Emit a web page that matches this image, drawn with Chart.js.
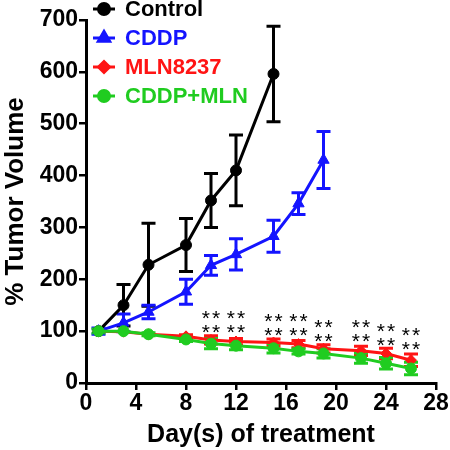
<!DOCTYPE html>
<html>
<head>
<meta charset="utf-8">
<script src="https://cdn.jsdelivr.net/npm/chart.js@4"></script>
<style>
  html, body { margin: 0; padding: 0; background: #fff; }
  #wrap { width: 450px; height: 450px; }
</style>
</head>
<body>
<div id="wrap"><canvas id="tumorChart" width="450" height="450"></canvas></div>
<script>
// data
const controlDays = [1, 3, 5, 8, 10, 12, 15];
const controlMean = [100, 150, 228, 266, 352, 410, 596];
const controlErr = [0, 40, 80, 51, 52, 68, 92];

const cddpDays = [1, 3, 5, 8, 10, 12, 15, 17, 19];
const cddpMean = [100, 116, 137, 176, 227, 248, 283, 346, 430];
const cddpErr = [6, 17, 13, 24, 19, 30, 31, 21, 55];

const mlnDays = [1, 3, 5, 8, 10, 12, 15, 17, 19, 22, 24, 26];
const mlnMean = [100, 99, 94, 90, 83, 80, 78, 75, 66, 62, 57, 44];
const mlnErr = [0, 0, 0, 3, 8, 6, 7, 7, 8, 9, 10, 12];

const comboDays = [1, 3, 5, 8, 10, 12, 15, 17, 19, 22, 24, 26];
const comboMean = [100, 100, 94, 84, 76, 72, 67, 61, 57, 48, 38, 28];
const comboErr = [4, 0, 3, 4, 10, 8, 9, 5, 9, 10, 11, 12];

const starDays = [10, 12, 15, 17, 19, 22, 24, 26];
const starLevel = [131, 131, 125, 125, 114, 114, 106, 98];

const xTicks = [0, 4, 8, 12, 16, 20, 24, 28];
const yTicks = [0, 100, 200, 300, 400, 500, 600, 700];

const FONT = "'Liberation Sans', Arial, sans-serif";

function toPoints(days, vals) {
    return days.map((d, i) => ({x: d, y: vals[i]}));
}

const series = [
    {label: 'Control', days: controlDays, mean: controlMean, err: controlErr, color: '#000000', style: 'circle', radius: 5.5, order: 4},
    {label: 'CDDP', days: cddpDays, mean: cddpMean, err: cddpErr, color: '#1414ff', style: 'triangle', radius: 6.5, order: 3},
    {label: 'MLN8237', days: mlnDays, mean: mlnMean, err: mlnErr, color: '#ff1414', style: 'rectRot', radius: 5.5, order: 2},
    {label: 'CDDP+MLN', days: comboDays, mean: comboMean, err: comboErr, color: '#20cc20', style: 'circle', radius: 5.5, order: 1}
];

const errorBars = {
    id: 'errorBars',
    beforeDatasetsDraw(chart) {
        const ctx = chart.ctx;
        const xs = chart.scales.x, ys = chart.scales.y;
        series.forEach(s => {
            ctx.save();
            ctx.strokeStyle = s.color;
            ctx.lineWidth = 3;
            s.days.forEach((d, i) => {
                if (!s.err[i]) return;
                const x = xs.getPixelForValue(d);
                const yTop = ys.getPixelForValue(s.mean[i] + s.err[i]);
                const yBot = ys.getPixelForValue(s.mean[i] - s.err[i]);
                ctx.beginPath();
                ctx.moveTo(x, yTop); ctx.lineTo(x, yBot);
                ctx.moveTo(x - 7, yTop); ctx.lineTo(x + 7, yTop);
                ctx.moveTo(x - 7, yBot); ctx.lineTo(x + 7, yBot);
                ctx.stroke();
            });
            ctx.restore();
        });
    }
};

const stars = {
    id: 'stars',
    afterDatasetsDraw(chart) {
        const ctx = chart.ctx;
        const xs = chart.scales.x, ys = chart.scales.y;
        ctx.save();
        ctx.fillStyle = '#000';
        ctx.font = '21px ' + FONT;
        ctx.letterSpacing = '2px';
        ctx.textAlign = 'center';
        ctx.textBaseline = 'middle';
        starDays.forEach((d, i) => {
            const x = xs.getPixelForValue(d) + 1;
            const y = ys.getPixelForValue(starLevel[i]);
            ctx.fillText('**', x, y + 4);
            ctx.fillText('**', x, y + 18);
        });
        ctx.restore();
    }
};

const legendBox = {
    id: 'legendBox',
    afterDraw(chart) {
        const ctx = chart.ctx;
        ctx.save();
        ctx.font = 'bold 22px ' + FONT;
        ctx.textBaseline = 'middle';
        ctx.textAlign = 'left';
        series.forEach((s, i) => {
            const y = 9 + i * 29;
            ctx.strokeStyle = s.color;
            ctx.fillStyle = s.color;
            ctx.lineWidth = 3;
            ctx.beginPath();
            ctx.moveTo(93, y); ctx.lineTo(115, y);
            ctx.stroke();
            Chart.helpers.drawPoint(ctx, {pointStyle: s.style, radius: s.radius, rotation: 0, borderWidth: 1}, 104, y);
            ctx.fill();
            ctx.fillText(s.label, 125, y + 1);
        });
        ctx.restore();
    }
};

new Chart(document.getElementById('tumorChart'), {
    type: 'line',
    data: {
        datasets: series.map(s => ({
            label: s.label,
            data: toPoints(s.days, s.mean),
            borderColor: s.color,
            backgroundColor: s.color,
            borderWidth: 3,
            pointStyle: s.style,
            pointRadius: s.radius,
            pointBorderWidth: 1,
            tension: 0,
            order: s.order
        }))
    },
    options: {
        responsive: false,
        animation: false,
        layout: {padding: {top: 20, right: 14, left: 0, bottom: 0}},
        plugins: {legend: {display: false}, tooltip: {enabled: false}},
        scales: {
            x: {
                type: 'linear',
                min: 0, max: 28,
                afterBuildTicks: axis => { axis.ticks = xTicks.map(v => ({value: v})); },
                afterFit: axis => { axis.height = 67; },
                border: {display: true, color: '#000', width: 3},
                grid: {display: true, drawOnChartArea: false, drawTicks: true, tickLength: 7, color: '#000', lineWidth: 2.5},
                ticks: {color: '#000', font: {family: FONT, size: 23, weight: 'bold'}, padding: 0, maxRotation: 0, autoSkip: false},
                title: {display: true, text: 'Day(s) of treatment', color: '#000', font: {family: FONT, size: 25, weight: 'bold'}, padding: {top: 0, bottom: 0}}
            },
            y: {
                min: 0, max: 700,
                afterBuildTicks: axis => { axis.ticks = yTicks.map(v => ({value: v})); },
                afterFit: axis => { axis.width = 86; },
                border: {display: true, color: '#000', width: 3},
                grid: {display: true, drawOnChartArea: false, drawTicks: true, tickLength: 7, color: '#000', lineWidth: 2.5},
                ticks: {color: '#000', font: {family: FONT, size: 23, weight: 'bold'}, padding: 1},
                title: {display: true, text: '% Tumor Volume', color: '#000', font: {family: FONT, size: 26, weight: 'bold'}, padding: {top: 0, bottom: 0}}
            }
        }
    },
    plugins: [errorBars, stars, legendBox]
});
</script>
</body>
</html>
